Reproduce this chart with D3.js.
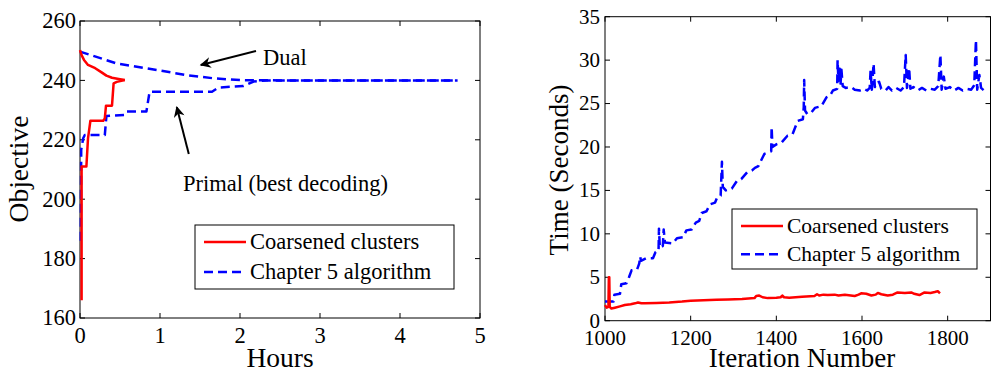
<!DOCTYPE html>
<html>
<head>
<meta charset="utf-8">
<script src="https://cdn.jsdelivr.net/npm/d3@7"></script>
<style>
  body { margin: 0; background: #fff; }
  svg { display: block; font-family: "Liberation Serif", "Times New Roman", serif; }
</style>
</head>
<body>
<svg id="drawing_region" width="991" height="370"></svg>
<script>
// ---- left panel: objective vs hours ----
const hoursTicks = [0, 1, 2, 3, 4, 5];
const objectiveTicks = [160, 180, 200, 220, 240, 260];
// [hours, objective]
const coarsePrimal = [[0.02,166],[0.02,186],[0.02,211],[0.08,211],[0.1,220.5],[0.13,226.4],[0.29,226.4],[0.31,227.2],[0.325,231.5],[0.40,231.5],[0.42,239],[0.46,239.5],[0.56,240.1]];
const coarseDual = [[0.56,240.1],[0.5,240.4],[0.4,240.9],[0.33,241.6],[0.27,242.7],[0.19,244.1],[0.1,245.2],[0.05,246.9],[0.02,248.5],[0,250.2]];
const ch5Primal = [[0.01,186],[0.015,216.6],[0.04,220.5],[0.06,221.6],[0.31,221.6],[0.33,228],[0.56,228.4],[0.58,229.5],[0.83,229.5],[0.87,236.2],[1.65,236.2],[1.73,237.6],[2.04,238.1],[2.17,239.6],[2.33,240],[4.72,240]];
const ch5Dual = [[0,249.7],[0.46,245.7],[1.0,243.3],[1.33,241.8],[1.67,240.7],[2.0,240.1],[2.5,240],[4.72,240]];

// ---- right panel: time per iteration ----
const iterTicks = [1000, 1200, 1400, 1600, 1800];
const timeTicks = [0, 5, 10, 15, 20, 25, 30, 35];
// [iteration, seconds]
const coarseTime = [[1000,1.8],[1004,1.5],[1008,1.6],[1009,5.0],[1010,5.0],[1011,1.6],[1015,1.4],[1023,1.5],[1035,1.65],[1046,1.8],[1060,1.9],[1070,2.0],[1077,2.1],[1085,2.0],[1093,2.0],[1120,2.05],[1150,2.1],[1180,2.2],[1200,2.3],[1230,2.35],[1260,2.4],[1287,2.45],[1320,2.5],[1349,2.6],[1353,2.85],[1360,2.9],[1368,2.7],[1380,2.6],[1400,2.65],[1410,2.7],[1414,2.9],[1418,2.7],[1430,2.65],[1460,2.75],[1489,2.85],[1495,3.05],[1500,2.9],[1510,3.0],[1520,2.95],[1536,3.0],[1545,2.9],[1560,3.0],[1583,2.85],[1592,3.0],[1598,3.15],[1610,3.1],[1622,2.9],[1632,3.0],[1637,3.2],[1645,3.05],[1660,2.9],[1672,3.0],[1683,3.25],[1700,3.2],[1715,3.25],[1722,3.1],[1734,2.95],[1746,3.25],[1760,3.2],[1770,3.3],[1777,3.4],[1782,3.15]];
const ch5Time = [[1000,2.2],[1020,2.2],[1022,3.0],[1035,3.1],[1038,4.2],[1050,4.3],[1056,5.0],[1062,5.8],[1075,5.9],[1080,6.6],[1082,7.4],[1084,6.9],[1096,7.2],[1112,7.2],[1118,7.9],[1125,8.0],[1126,10.6],[1128,8.4],[1135,8.6],[1137,10.5],[1140,9.0],[1158,8.9],[1168,9.5],[1182,9.6],[1190,10.4],[1202,10.5],[1212,11.3],[1220,11.5],[1226,12.4],[1237,12.6],[1245,13.4],[1257,13.6],[1262,14.2],[1270,14.4],[1273,18.3],[1275,15.4],[1282,15.0],[1296,15.2],[1308,16.1],[1318,16.3],[1332,17.1],[1343,17.3],[1350,17.6],[1358,17.8],[1372,19.2],[1382,19.4],[1388,19.5],[1389,22.3],[1391,20.0],[1400,20.3],[1412,20.5],[1426,21.3],[1438,21.5],[1450,23.0],[1462,23.2],[1464,24.6],[1465,27.7],[1467,24.2],[1472,23.8],[1482,24.0],[1490,24.5],[1505,24.7],[1517,25.7],[1525,25.9],[1532,26.5],[1542,26.7],[1543,30.0],[1545,27.6],[1548,29.0],[1550,27.3],[1552,28.9],[1555,27.0],[1562,26.8],[1575,26.9],[1583,26.6],[1595,26.5],[1605,26.7],[1612,26.5],[1618,26.8],[1620,28.8],[1623,26.6],[1627,29.6],[1630,26.9],[1633,27.4],[1640,27.5],[1645,26.7],[1655,26.5],[1662,26.9],[1670,26.5],[1680,26.8],[1690,26.5],[1698,26.9],[1702,30.6],[1705,26.8],[1710,29.1],[1713,26.7],[1720,26.9],[1730,26.5],[1740,26.8],[1750,26.5],[1760,26.7],[1770,26.6],[1778,27.0],[1783,30.6],[1786,26.6],[1791,28.1],[1795,26.7],[1805,26.9],[1815,26.5],[1825,26.8],[1835,26.5],[1845,26.7],[1855,26.6],[1862,27.1],[1866,32.3],[1869,26.6],[1874,28.3],[1878,26.8],[1885,26.5],[1890,26.7]];

const legendNames = ['Coarsened clusters', 'Chapter 5 algorithm'];
const RED = '#ff0000', BLUE = '#0000ff';
const DASH = '9,5';

const svg = d3.select('#drawing_region');

// draws a MATLAB-like box with inward ticks on all four sides
function drawFrame(x, y, xt, yt, fs, xLabelDy, yLabelDx) {
    const [x0, x1] = x.range();
    const [y0, y1] = y.range(); // y0 bottom, y1 top
    const g = svg.append('g');
    const ts = 5;
    xt.forEach(t => {
        g.append('line').attr('x1', x(t)).attr('x2', x(t)).attr('y1', y0).attr('y2', y0 - ts).attr('stroke', '#000');
        g.append('line').attr('x1', x(t)).attr('x2', x(t)).attr('y1', y1).attr('y2', y1 + ts).attr('stroke', '#000');
        g.append('text').attr('x', x(t)).attr('y', y0 + xLabelDy).attr('text-anchor', 'middle')
            .attr('font-size', fs).text(t);
    });
    yt.forEach(t => {
        g.append('line').attr('x1', x0).attr('x2', x0 + ts).attr('y1', y(t)).attr('y2', y(t)).attr('stroke', '#000');
        g.append('line').attr('x1', x1).attr('x2', x1 - ts).attr('y1', y(t)).attr('y2', y(t)).attr('stroke', '#000');
        g.append('text').attr('x', x0 - yLabelDx).attr('y', y(t)).attr('dy', '0.33em').attr('text-anchor', 'end')
            .attr('font-size', fs).text(t);
    });
    g.append('rect').attr('x', x0).attr('y', y1).attr('width', x1 - x0).attr('height', y0 - y1)
        .attr('fill', 'none').attr('stroke', '#000').attr('stroke-width', 1);
}

function drawLine(x, y, data, color, dash) {
    const line = d3.line().x(d => x(d[0])).y(d => y(d[1]));
    svg.append('path').datum(data).attr('d', line)
        .attr('fill', 'none').attr('stroke', color).attr('stroke-width', 2.5)
        .attr('stroke-dasharray', dash || null).attr('stroke-linejoin', 'round');
}

function drawLegend(bx, by, bw, bh, fs, rows) {
    const g = svg.append('g');
    g.append('rect').attr('x', bx).attr('y', by).attr('width', bw).attr('height', bh)
        .attr('fill', '#fff').attr('stroke', '#000').attr('stroke-width', 1);
    rows.forEach((r, i) => {
        const yy = by + 17 + i * 30 * bh / 64;
        g.append('line').attr('x1', bx + 9).attr('x2', bx + 51).attr('y1', yy).attr('y2', yy)
            .attr('stroke', r.color).attr('stroke-width', 2.5).attr('stroke-dasharray', r.dash || null);
        g.append('text').attr('x', bx + 55).attr('y', yy).attr('dy', '0.32em')
            .attr('font-size', fs).text(r.name);
    });
}

// ---------- left panel ----------
const xL = d3.scaleLinear().domain([0, 5]).range([80, 480]);
const yL = d3.scaleLinear().domain([160, 260]).range([318, 21]);
drawFrame(xL, yL, hoursTicks, objectiveTicks, 22.5, 25, 4);
drawLine(xL, yL, ch5Dual, BLUE, DASH);
drawLine(xL, yL, ch5Primal, BLUE, DASH);
drawLine(xL, yL, coarsePrimal, RED);
drawLine(xL, yL, coarseDual, RED);

svg.append('text').attr('x', 280).attr('y', 367).attr('text-anchor', 'middle').attr('font-size', 27.5).text('Hours');
svg.append('text').attr('transform', 'translate(28,169) rotate(-90)').attr('text-anchor', 'middle')
    .attr('font-size', 27.5).text('Objective');

// annotations with arrows
svg.append('defs').append('marker').attr('id', 'head')
    .attr('viewBox', '0 0 10 10').attr('refX', 9).attr('refY', 5)
    .attr('markerWidth', 6.5).attr('markerHeight', 5.5).attr('markerUnits', 'strokeWidth')
    .attr('orient', 'auto')
    .append('path').attr('d', 'M0,0 L10,5 L0,10 L3,5 Z').attr('fill', '#000');
const arrows = [
    {from: [2.2, 249.9], to: [1.51, 245.2]},
    {from: [1.36, 215.2], to: [1.21, 231]}
];
arrows.forEach(a => {
    svg.append('line')
        .attr('x1', xL(a.from[0])).attr('y1', yL(a.from[1]))
        .attr('x2', xL(a.to[0])).attr('y2', yL(a.to[1]))
        .attr('stroke', '#000').attr('stroke-width', 2).attr('marker-end', 'url(#head)');
});
svg.append('text').attr('x', 263).attr('y', 65).attr('font-size', 22.5).text('Dual');
svg.append('text').attr('x', 183).attr('y', 191).attr('font-size', 22.5).text('Primal (best decoding)');

drawLegend(195, 225, 259, 64, 22.5, [
    {name: legendNames[0], color: RED},
    {name: legendNames[1], color: BLUE, dash: DASH}
]);

// ---------- right panel ----------
const xR = d3.scaleLinear().domain([1000, 1900]).range([605, 990.5]);
const yR = d3.scaleLinear().domain([0, 35]).range([320.7, 16.7]);
drawFrame(xR, yR, iterTicks, timeTicks, 21, 24.5, 5);
drawLine(xR, yR, ch5Time, BLUE, DASH);
drawLine(xR, yR, coarseTime, RED);

svg.append('text').attr('x', 802).attr('y', 367).attr('text-anchor', 'middle').attr('font-size', 27).text('Iteration Number');
svg.append('text').attr('transform', 'translate(568,170) rotate(-90)').attr('text-anchor', 'middle')
    .attr('font-size', 27).text('Time (Seconds)');

drawLegend(732, 209, 245, 60, 21.5, [
    {name: legendNames[0], color: RED},
    {name: legendNames[1], color: BLUE, dash: DASH}
]);
</script>
</body>
</html>
